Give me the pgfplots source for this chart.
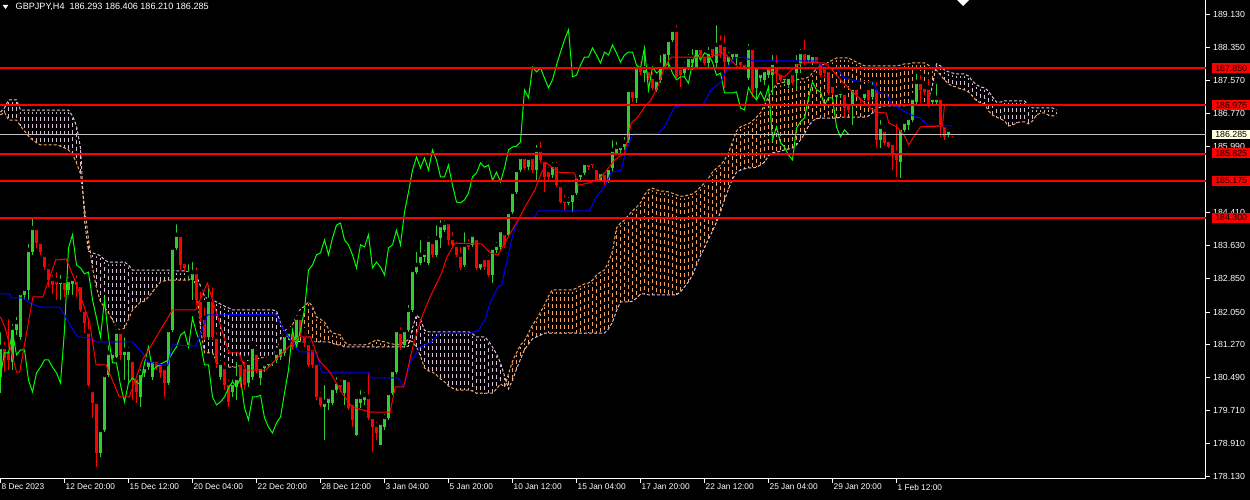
\documentclass[border=0pt]{standalone}
\usepackage{pgfplots}
\pgfplotsset{compat=1.18}
\usepackage{pgfplotstable}
\usepackage{fontspec}
\setmainfont{Liberation Sans}

\definecolor{bull}{RGB}{50,205,50}
\definecolor{bear}{RGB}{255,0,0}
\definecolor{spanA}{RGB}{244,164,96}
\definecolor{spanB}{RGB}{216,191,216}
\definecolor{chikou}{RGB}{0,255,0}
\definecolor{kijun}{RGB}{0,0,255}
\definecolor{tenkan}{RGB}{255,0,0}
\definecolor{bidline}{RGB}{192,192,192}
\definecolor{bidbg}{RGB}{255,255,224}

% GBPJPY H4 candles, bar index i (0 = 8 Dec 2023)
\pgfplotstableread{
i o h l c
0 180.50 181.62 180.12 181.22
1 181.22 181.39 180.62 180.96
2 181.15 181.93 180.67 180.91
3 180.86 181.81 180.67 181.67
4 181.62 181.98 181.50 181.81
5 181.46 182.58 181.39 182.50
6 182.46 182.67 182.34 182.60
7 182.58 183.72 182.34 183.53
8 183.48 184.36 183.41 184.05
9 184.05 184.10 183.58 183.69
10 183.72 183.77 183.41 183.48
11 183.41 183.46 183.05 183.12
12 183.12 183.24 182.65 182.81
13 182.84 182.98 182.48 182.69
14 182.81 183.05 182.34 182.72
15 182.72 182.98 182.34 182.79
16 182.79 182.86 182.41 182.58
17 182.58 182.93 182.46 182.81
18 182.72 182.86 182.46 182.84
19 182.81 182.98 182.41 182.69
20 182.69 182.74 182.05 182.10
21 182.10 182.19 181.55 181.79
22 181.58 181.96 180.27 180.31
23 180.19 180.27 179.53 179.89
24 179.91 179.96 178.36 178.69
25 178.69 179.29 178.60 179.24
26 179.24 180.62 179.19 180.55
27 180.55 181.31 180.50 181.08
28 180.96 181.15 180.91 181.08
29 180.98 181.69 180.96 181.58
30 181.58 181.69 180.91 181.03
31 181.03 181.50 180.43 181.15
32 180.91 181.27 180.39 181.15
33 180.91 180.98 179.96 180.43
34 180.50 180.60 179.89 180.15
35 180.03 180.74 179.79 180.60
36 180.60 180.86 180.50 180.74
37 180.74 180.98 180.67 180.91
38 180.50 180.98 180.43 180.91
39 180.91 180.98 180.67 180.74
40 180.86 180.96 180.48 180.60
41 180.72 180.84 180.03 180.36
42 180.36 181.69 180.31 181.62
43 181.62 183.62 181.58 183.58
44 183.58 184.19 183.53 183.89
45 183.89 184.00 183.05 183.17
46 183.24 183.34 183.00 183.10
47 182.91 183.24 182.81 182.96
48 182.81 183.29 182.34 183.00
49 183.00 183.17 182.22 182.34
50 182.34 182.58 181.81 181.91
51 181.91 182.22 181.39 181.46
52 181.46 182.74 181.39 182.34
53 182.34 182.69 181.39 181.46
54 181.46 181.62 180.72 180.84
55 180.50 180.96 180.43 180.84
56 180.74 180.91 180.19 180.31
57 180.36 180.50 179.79 179.91
58 180.15 180.50 180.03 180.36
59 180.27 180.91 179.96 180.48
60 180.84 180.96 180.27 180.39
61 180.74 180.91 180.19 180.31
62 180.36 180.96 180.27 180.84
63 180.50 181.31 180.43 181.22
64 181.08 181.19 180.60 180.67
65 180.48 180.84 180.31 180.74
66 180.72 180.91 180.62 180.81
67 180.79 180.96 180.72 180.86
68 180.86 180.98 180.77 180.91
69 180.91 181.15 180.84 181.08
70 180.98 181.31 180.91 181.22
71 181.08 181.55 181.00 181.50
72 181.46 181.67 181.39 181.58
73 181.58 181.67 181.15 181.22
74 181.39 182.03 181.31 181.91
75 181.91 182.03 181.48 181.55
76 181.50 181.62 181.22 181.31
77 181.31 181.39 180.74 180.79
78 181.19 181.31 180.72 180.79
79 180.84 180.91 179.96 180.03
80 180.07 180.19 179.79 179.84
81 179.79 180.36 179.00 179.91
82 179.89 180.12 179.72 180.03
83 179.89 180.31 179.84 180.24
84 180.19 180.55 180.12 180.39
85 180.36 180.48 180.15 180.27
86 180.12 180.55 179.84 180.48
87 180.43 180.48 179.72 179.77
88 179.89 179.96 179.31 179.48
89 179.12 180.07 179.10 180.03
90 179.89 180.24 179.77 180.03
91 179.96 180.19 179.84 180.07
92 180.03 180.67 179.48 179.53
93 179.55 179.60 178.72 179.31
94 179.36 179.48 179.00 179.17
95 178.89 179.48 178.89 179.41
96 179.31 179.67 179.24 179.55
97 179.53 180.19 179.48 180.12
98 180.12 180.72 180.07 180.67
99 180.62 181.67 180.58 181.62
100 181.58 181.74 181.15 181.22
101 181.27 181.69 181.19 181.62
102 181.62 182.27 181.58 182.10
103 182.10 183.10 182.05 183.05
104 183.00 183.53 182.96 183.17
105 183.22 183.81 183.17 183.41
106 183.36 183.58 183.24 183.46
107 183.22 183.89 183.17 183.77
108 183.72 183.81 183.36 183.41
109 183.41 184.17 183.36 183.81
110 183.81 184.29 183.58 184.12
111 184.00 184.29 183.96 184.17
112 184.19 184.29 183.65 183.77
113 183.81 184.00 183.60 183.65
114 183.65 183.77 183.36 183.41
115 183.41 183.65 183.05 183.10
116 183.17 184.00 183.12 183.65
117 183.69 183.84 183.53 183.60
118 183.65 183.93 183.60 183.89
119 183.81 183.84 183.05 183.10
120 183.10 183.34 183.05 183.24
121 183.34 183.41 183.05 183.12
122 183.34 183.46 182.89 182.93
123 182.93 183.65 182.74 183.58
124 183.53 183.77 183.46 183.65
125 183.60 184.05 183.53 184.00
126 183.93 184.00 183.58 183.65
127 183.89 184.48 183.84 184.43
128 184.43 184.96 184.38 184.91
129 184.91 185.48 184.86 185.43
130 185.43 185.79 185.38 185.74
131 185.74 185.79 185.43 185.48
132 185.50 185.79 185.43 185.72
133 185.74 185.84 185.36 185.43
134 185.43 186.08 185.19 185.91
135 185.91 186.15 185.60 185.67
136 185.67 185.74 184.91 185.27
137 185.43 185.55 185.19 185.27
138 185.31 185.67 185.24 185.55
139 185.55 185.67 185.03 185.07
140 185.07 185.19 184.65 184.67
141 184.72 184.88 184.48 184.65
142 184.65 184.84 184.60 184.72
143 184.67 184.96 184.43 184.88
144 184.88 185.31 184.84 185.27
145 185.27 185.43 185.19 185.36
146 185.36 185.67 185.31 185.60
147 185.60 185.67 185.43 185.50
148 185.62 185.72 185.48 185.55
149 185.48 185.55 185.15 185.19
150 185.19 185.43 185.15 185.38
151 185.36 185.43 185.07 185.15
152 185.19 185.55 185.12 185.48
153 185.48 186.19 185.38 185.91
154 185.84 186.15 185.79 185.98
155 185.91 186.08 185.79 186.00
156 185.98 186.27 185.91 186.10
157 186.08 187.39 186.03 187.34
158 187.34 187.39 187.05 187.15
159 187.15 188.00 187.03 187.88
160 187.93 188.05 187.69 187.77
161 187.74 188.34 187.53 187.86
162 187.81 187.88 187.58 187.62
163 187.65 187.81 187.34 187.39
164 187.34 187.65 187.29 187.58
165 187.58 188.22 187.50 187.93
166 187.88 188.34 187.86 188.24
167 188.17 188.58 187.88 188.53
168 188.53 188.84 188.48 188.77
169 188.77 188.93 187.62 187.65
170 187.86 187.91 187.41 187.69
171 187.74 188.05 187.62 187.93
172 187.88 188.24 187.81 188.12
173 187.98 188.36 187.81 188.12
174 187.88 188.41 187.86 188.34
175 188.34 188.41 188.10 188.17
176 188.17 188.24 187.93 187.98
177 187.98 188.41 187.88 188.24
178 188.36 188.46 188.10 188.17
179 187.98 188.93 187.88 188.41
180 188.46 188.69 188.10 188.22
181 188.41 188.69 187.39 188.00
182 188.00 188.29 187.93 188.17
183 188.12 188.34 188.05 188.24
184 188.12 188.29 187.93 188.24
185 188.05 188.12 187.86 187.93
186 187.98 188.05 187.81 187.86
187 187.62 188.48 187.58 188.34
188 188.34 188.36 187.17 187.34
189 187.39 187.98 187.10 187.88
190 187.62 187.81 187.53 187.74
191 187.58 187.93 187.46 187.81
192 187.69 187.98 187.62 187.88
193 187.69 188.22 187.22 187.98
194 187.93 188.22 187.50 187.74
195 187.74 187.81 187.53 187.58
196 187.58 187.74 187.50 187.65
197 187.46 187.74 187.39 187.65
198 187.74 187.81 187.46 187.50
199 187.74 188.22 187.34 188.00
200 187.98 188.36 187.74 188.24
201 188.24 188.58 187.93 188.05
202 188.05 188.29 187.98 188.22
203 187.98 188.24 187.93 188.17
204 188.17 188.24 187.98 188.00
205 188.00 188.05 187.65 187.69
206 187.88 188.00 187.65 187.74
207 187.81 187.88 187.22 187.27
208 187.46 187.53 187.22 187.27
209 187.17 187.34 187.10 187.27
210 187.22 187.39 187.15 187.29
211 187.27 187.34 186.67 186.91
212 187.03 187.10 186.79 186.86
213 186.98 187.46 186.50 187.39
214 187.39 187.46 187.17 187.22
215 187.17 187.27 187.03 187.10
216 187.15 187.39 187.10 187.29
217 187.39 187.46 187.05 187.10
218 187.17 187.58 187.10 187.41
219 187.39 187.58 185.98 186.15
220 186.15 186.67 185.96 186.46
221 186.39 186.50 186.03 186.08
222 186.15 186.19 185.96 185.98
223 186.08 186.15 185.43 185.79
224 185.84 186.58 185.27 185.67
225 185.62 186.50 185.24 186.43
226 186.39 186.67 186.34 186.58
227 186.50 186.67 186.39 186.67
228 186.62 187.22 186.58 187.15
229 187.05 187.77 186.98 187.53
230 187.53 187.74 187.03 187.34
231 187.41 187.46 187.22 187.29
232 187.39 187.65 186.93 186.98
233 187.05 187.22 187.00 187.15
234 187.05 187.53 186.98 187.15
235 187.15 187.17 186.22 186.46
236 186.50 186.55 186.15 186.22
237 186.27 186.46 186.22 186.39
238 186.293 186.406 186.210 186.285
}\candles

% Ichimoku cloud: a = Senkou Span A, b = Senkou Span B
\pgfplotstableread{
i a b
0 186.74 186.81
1 186.81 186.91
2 186.62 187.10
3 186.62 187.10
4 186.62 187.10
5 186.48 186.86
6 186.36 186.86
7 186.24 186.86
8 186.15 186.86
9 186.08 186.86
10 186.03 186.86
11 186.03 186.86
12 186.03 186.86
13 186.03 186.86
14 186.03 186.86
15 186.00 186.86
16 185.96 186.86
17 185.91 186.86
18 185.81 186.72
19 185.60 186.48
20 185.34 185.96
21 184.55 184.24
22 183.79 183.50
23 183.10 183.46
24 182.62 183.43
25 182.29 183.39
26 182.17 183.29
27 182.03 183.24
28 181.86 183.24
29 181.69 183.24
30 181.62 183.24
31 181.67 183.24
32 181.88 183.17
33 182.10 183.05
34 182.19 183.05
35 182.29 183.05
36 182.31 183.05
37 182.41 183.05
38 182.53 183.05
39 182.65 183.05
40 182.77 183.05
41 182.79 183.05
42 182.81 183.05
43 182.81 183.05
44 182.81 183.03
45 182.81 183.03
46 182.81 183.03
47 182.81 183.00
48 182.88 183.00
49 182.67 182.91
50 181.65 182.67
51 181.08 182.43
52 181.08 182.34
53 181.08 182.34
54 180.88 182.29
55 180.74 182.24
56 180.74 182.19
57 180.74 182.15
58 180.74 182.10
59 180.74 182.10
60 180.79 182.10
61 180.86 182.10
62 180.91 182.10
63 180.93 182.10
64 180.93 182.10
65 180.96 182.10
66 180.96 182.10
67 180.98 182.10
68 180.98 182.10
69 181.19 182.08
70 181.39 181.79
71 181.60 181.58
72 181.67 181.41
73 181.74 181.36
74 181.96 181.36
75 182.12 181.34
76 182.19 181.34
77 182.29 181.34
78 182.19 181.34
79 181.93 181.34
80 181.88 181.34
81 181.81 181.34
82 181.65 181.34
83 181.55 181.31
84 181.53 181.27
85 181.50 181.27
86 181.34 181.22
87 181.27 181.22
88 181.27 181.22
89 181.27 181.22
90 181.27 181.22
91 181.27 181.22
92 181.29 181.22
93 181.34 181.22
94 181.39 181.22
95 181.36 181.22
96 181.34 181.22
97 181.31 181.22
98 181.29 181.22
99 181.27 181.22
100 181.29 181.22
101 181.34 181.22
102 181.39 181.24
103 181.34 181.67
104 181.22 181.98
105 181.00 181.88
106 180.72 181.62
107 180.65 181.58
108 180.62 181.58
109 180.55 181.58
110 180.46 181.58
111 180.39 181.58
112 180.29 181.58
113 180.24 181.58
114 180.19 181.58
115 180.19 181.58
116 180.19 181.58
117 180.19 181.58
118 180.17 181.53
119 180.12 181.46
120 180.12 181.46
121 180.12 181.46
122 180.12 181.36
123 180.12 181.22
124 180.22 181.05
125 180.34 180.84
126 180.27 180.53
127 180.58 180.22
128 180.88 180.43
129 181.08 180.69
130 181.27 180.93
131 181.36 181.15
132 181.55 181.29
133 181.74 181.41
134 181.88 181.46
135 182.05 181.50
136 182.22 181.55
137 182.43 181.55
138 182.58 181.55
139 182.58 181.55
140 182.58 181.55
141 182.58 181.55
142 182.58 181.55
143 182.58 181.55
144 182.62 181.55
145 182.67 181.55
146 182.72 181.55
147 182.74 181.55
148 182.81 181.55
149 182.93 181.55
150 183.00 181.55
151 183.05 181.55
152 183.24 181.65
153 183.50 181.81
154 184.05 182.08
155 184.17 182.29
156 184.24 182.29
157 184.36 182.29
158 184.46 182.31
159 184.55 182.38
160 184.65 182.48
161 184.84 182.48
162 184.96 182.46
163 185.00 182.46
164 184.96 182.46
165 184.93 182.46
166 184.93 182.46
167 184.91 182.46
168 184.88 182.46
169 184.84 182.46
170 184.81 182.53
171 184.81 182.65
172 184.84 182.77
173 184.86 182.93
174 184.93 183.17
175 185.03 183.39
176 185.12 183.58
177 185.24 183.79
178 185.38 183.98
179 185.48 184.19
180 185.55 184.43
181 185.67 184.72
182 185.84 184.98
183 186.10 185.22
184 186.36 185.38
185 186.46 185.43
186 186.50 185.46
187 186.53 185.48
188 186.60 185.48
189 186.69 185.50
190 186.79 185.55
191 186.98 185.62
192 187.17 185.77
193 187.34 185.84
194 187.48 185.86
195 187.50 185.88
196 187.53 185.91
197 187.53 185.93
198 187.55 185.96
199 187.58 186.03
200 187.60 186.15
201 187.60 186.29
202 187.65 186.48
203 187.74 186.60
204 187.84 186.65
205 187.91 186.67
206 187.96 186.67
207 188.00 186.67
208 188.05 186.67
209 188.10 186.67
210 188.10 186.69
211 188.10 186.69
212 188.10 186.69
213 188.05 186.69
214 188.00 186.69
215 187.96 186.69
216 187.91 186.69
217 187.91 186.72
218 187.91 186.79
219 187.91 186.91
220 187.91 186.93
221 187.91 186.96
222 187.91 186.96
223 187.91 186.96
224 187.91 186.96
225 187.93 186.96
226 187.96 186.96
227 187.96 186.98
228 187.98 186.98
229 187.98 186.98
230 187.98 186.98
231 187.98 186.98
232 187.93 186.98
233 187.84 187.46
234 187.81 187.96
235 187.69 187.91
236 187.58 187.81
237 187.48 187.77
238 187.43 187.74
239 187.41 187.72
240 187.36 187.72
241 187.34 187.72
242 187.29 187.67
243 187.19 187.55
244 187.08 187.46
245 187.03 187.41
246 187.00 187.39
247 186.84 187.31
248 186.74 187.17
249 186.69 187.05
250 186.65 187.05
251 186.60 187.08
252 186.48 187.08
253 186.50 187.08
254 186.55 187.08
255 186.58 187.08
256 186.58 187.08
257 186.53 186.98
258 186.60 186.91
259 186.74 186.91
260 186.79 186.91
261 186.79 186.91
262 186.74 186.91
263 186.72 186.91
264 186.72 186.86
}\kumo

\begin{document}
\begin{tikzpicture}[font=\fontsize{8.8}{10}\selectfont]
\fill[black] (0,0) rectangle (1250pt,500pt);
\begin{axis}[
  at={(0pt,21pt)}, anchor=south west,
  scale only axis, width=1206pt, height=479pt,
  xmin=-0.125, xmax=301.375, ymin=178.075, ymax=189.48,
  axis x line=bottom, axis y line=right,
  axis line style={white, line width=1pt, -},
  tick style={white, line width=1pt},
  tick align=outside, major tick length=4pt,
  clip mode=individual,
  xtick={0,16,...,224},
  xticklabels={8 Dec 2023,12 Dec 20:00,15 Dec 12:00,20 Dec 04:00,22 Dec 20:00,28 Dec 12:00,3 Jan 04:00,5 Jan 20:00,10 Jan 12:00,15 Jan 04:00,17 Jan 20:00,22 Jan 12:00,25 Jan 04:00,29 Jan 20:00,1 Feb 12:00},
  ytick={178.13,178.91,179.71,180.49,181.27,182.05,182.85,183.63,184.41,185.99,186.77,187.57,188.35,189.13},
  yticklabels={178.130,178.910,179.710,180.490,181.270,182.050,182.850,183.630,184.410,185.990,186.770,187.570,188.350,189.130},
  every tick label/.append style={text=white, inner sep=0pt},
  xticklabel style={anchor=north west, xshift=1pt, yshift=-1pt, font=\fontsize{8.3}{10}\selectfont},
  yticklabel style={anchor=west, xshift=3pt, font=\fontsize{8.8}{10}\selectfont},
]
% cloud hatching: one dashed stroke per bar between the two spans
\addplot[only marks, mark=none, forget plot,
  skip coords between index={0}{21}, skip coords between index={23}{71},
  skip coords between index={103}{127}, skip coords between index={234}{265},
  error bars/.cd, y dir=minus, y explicit, error mark=none,
  error bar style={spanA, line width=1pt, dash pattern=on 4pt off 3pt}]
  table[x=i, y expr={max(\thisrow{a},\thisrow{b})},
        y error minus expr={abs(\thisrow{a}-\thisrow{b})}] {\kumo};
\addplot[only marks, mark=none, forget plot,
  skip coords between index={21}{23}, skip coords between index={71}{103},
  skip coords between index={127}{234},
  error bars/.cd, y dir=minus, y explicit, error mark=none,
  error bar style={spanB, line width=1pt, dash pattern=on 4pt off 3pt}]
  table[x=i, y expr={max(\thisrow{a},\thisrow{b})},
        y error minus expr={abs(\thisrow{a}-\thisrow{b})}] {\kumo};
\addplot[spanA, line width=1pt, dash pattern=on 3pt off 2pt] table[x=i, y=a] {\kumo};
\addplot[spanB, line width=1pt, dash pattern=on 3pt off 2pt] table[x=i, y=b] {\kumo};

% candles: wicks then bodies
\addplot[only marks, mark=none, forget plot,
  error bars/.cd, y dir=minus, y explicit, error mark=none,
  error bar style={bull, line width=1pt}]
  table[x=i, y expr={\thisrow{c}>=\thisrow{o} ? \thisrow{h} : nan},
        y error minus expr={\thisrow{h}-\thisrow{l}}] {\candles};
\addplot[only marks, mark=none, forget plot,
  error bars/.cd, y dir=minus, y explicit, error mark=none,
  error bar style={bear, line width=1pt}]
  table[x=i, y expr={\thisrow{c}<\thisrow{o} ? \thisrow{h} : nan},
        y error minus expr={\thisrow{h}-\thisrow{l}}] {\candles};
\addplot[only marks, mark=none, forget plot,
  error bars/.cd, y dir=minus, y explicit, error mark=none,
  error bar style={bull, line width=3pt}]
  table[x=i, y expr={\thisrow{c}>=\thisrow{o} ? \thisrow{c} : nan},
        y error minus expr={\thisrow{c}-\thisrow{o}}] {\candles};
\addplot[only marks, mark=none, forget plot,
  error bars/.cd, y dir=minus, y explicit, error mark=none,
  error bar style={bear, line width=3pt}]
  table[x=i, y expr={\thisrow{c}<\thisrow{o} ? \thisrow{o} : nan},
        y error minus expr={\thisrow{o}-\thisrow{c}}] {\candles};

% Chikou span: close shifted 26 bars back
\addplot[chikou, line width=1pt] table[x expr=\thisrow{i}-26, y=c] {\candles};

% Kijun-sen
\addplot[kijun, line width=1pt] coordinates {
(0,182.48) (2.3,182.48) (2.7,182.39) (5.6,182.39) (7.3,182.27) (9.8,182.17) (14.8,182.17) (16,181.98) (17.7,181.69) (19.3,181.46) (22.3,181.43) (23.9,181.34) (33,181.34) (35.5,181.08) (36.8,180.86) (41.8,180.77) (43,181.27) (48.8,181.24) (51.7,181.98) (68.8,182.00) (70.4,181.69) (74.6,181.10) (78.8,181.10) (80.4,180.60) (92,180.60) (92.5,180.48) (99.5,180.48) (100.8,180.27) (102.4,180.84) (104.9,181.22) (107.8,181.34) (109.9,181.55) (117.8,181.55) (119.5,181.62) (121.1,181.86) (122.4,182.27) (124.4,182.65) (125.3,182.69) (126.5,183.22) (127.8,183.77) (128.6,184.07) (129.8,184.29) (133.6,184.31) (134.4,184.46) (147.3,184.46) (148.9,184.79) (151,185.03) (152.7,185.38) (155.2,185.43) (156.4,185.91) (157.7,186.22) (158.5,186.29) (164.3,186.29) (166,186.46) (168.5,186.93) (169.7,186.96) (175.5,186.96) (177.6,187.34) (180.1,187.53) (181.8,187.88) (183.4,188.10) (185.9,188.12) (188,188.03) (204.2,188.03) (205.9,187.88) (209.2,187.86) (210.8,187.62) (214.2,187.55) (218.3,187.53) (219.1,187.29) (221.6,187.24) (222.5,187.03) (224.1,186.93) (226.6,186.79) (229.1,186.69) (230,186.67) (231.6,186.50) (238,186.48)
};

% Tenkan-sen
\addplot[tenkan, line width=1pt] coordinates {
(0,181.93) (1.1,181.69) (4,180.62) (4.8,180.62) (8.1,182.41) (10.6,182.41) (13.8,183.29) (16.4,183.31) (18.9,182.74) (22.3,181.79) (23.9,180.79) (26.4,180.79) (29.7,180.03) (32.2,180.03) (35.5,180.91) (43,182.10) (48.8,182.10) (51.7,182.74) (57.1,181.08) (59.6,181.08) (61.3,180.67) (66.3,180.67) (68.8,180.91) (74.6,181.46) (77.5,181.46) (79.6,180.91) (82.5,180.60) (85.4,180.12) (87.9,179.79) (92.5,179.67) (97.4,179.67) (98.7,180.27) (100.8,180.27) (103.3,181.31) (105.3,181.93) (107.4,182.41) (110.3,182.98) (111.6,183.36) (113.6,183.69) (120.3,183.67) (122.4,183.46) (124.4,183.41) (126.5,183.77) (129.8,184.31) (131.1,184.55) (133.6,184.96) (135.2,185.36) (136.5,185.60) (139.4,185.38) (143.5,185.36) (144.4,185.07) (146.9,185.12) (149.4,185.19) (151,185.36) (153.5,185.67) (156,185.84) (157.7,186.55) (159.3,186.69) (161,186.93) (162.6,187.10) (164.3,187.41) (166,187.88) (167.6,188.12) (176.8,188.12) (181,188.22) (184.3,187.88) (190.9,187.86) (195.9,187.65) (199.2,187.93) (200.9,188.00) (205.9,187.98) (207.5,187.86) (210.8,187.50) (212.5,187.34) (215.8,187.05) (218.7,186.81) (221.4,186.79) (222.1,186.55) (224.1,186.46) (226.2,186.22) (227,186.03) (228.3,186.22) (230,186.46) (235.5,186.48) (236,186.98) (238,186.98)
};

% bid line and horizontal levels
\addplot[bidline, line width=1pt] coordinates {(-1,186.285) (303,186.285)};
\addplot[red, line width=2pt] coordinates {(-1,187.85) (303,187.85)};
\addplot[red, line width=2pt] coordinates {(-1,186.975) (303,186.975)};
\addplot[red, line width=2pt] coordinates {(-1,185.825) (303,185.825)};
\addplot[red, line width=2pt] coordinates {(-1,185.175) (303,185.175)};
\addplot[red, line width=2pt] coordinates {(-1,184.30) (303,184.30)};

\coordinate (r1) at (axis cs:301.375,187.85);
\coordinate (r2) at (axis cs:301.375,186.975);
\coordinate (r3) at (axis cs:301.375,185.825);
\coordinate (r4) at (axis cs:301.375,185.175);
\coordinate (r5) at (axis cs:301.375,184.30);
\coordinate (bp) at (axis cs:301.375,186.285);
\end{axis}

\tikzset{lvl/.style={anchor=west, fill=red, text=black, inner xsep=2pt, inner ysep=0pt, minimum height=10pt, minimum width=39pt}}
\node[lvl] at ([xshift=5.5pt]r1) {187.850};
\node[lvl] at ([xshift=5.5pt]r2) {186.975};
\node[lvl] at ([xshift=5.5pt]r3) {185.825};
\node[lvl] at ([xshift=5.5pt]r4) {185.175};
\node[lvl] at ([xshift=5.5pt]r5) {184.300};
\node[lvl, fill=bidbg, minimum height=9pt] at ([xshift=5.5pt]bp) {186.285};

% title
\fill[white] (2.7pt,495pt) -- (8.3pt,495pt) -- (5.5pt,491pt) -- cycle;
\node[anchor=west, text=white, inner sep=0pt, font=\fontsize{9.1}{10}\selectfont] at (15.5pt,493pt) {GBPJPY,H4\hspace{5pt}186.293 186.406 186.210 186.285};
\fill[white] (957pt,500pt) -- (969pt,500pt) -- (963pt,494pt) -- cycle;

\pgfresetboundingbox
\path[use as bounding box] (0,0) rectangle (1250pt,500pt);
\end{tikzpicture}
\end{document}
